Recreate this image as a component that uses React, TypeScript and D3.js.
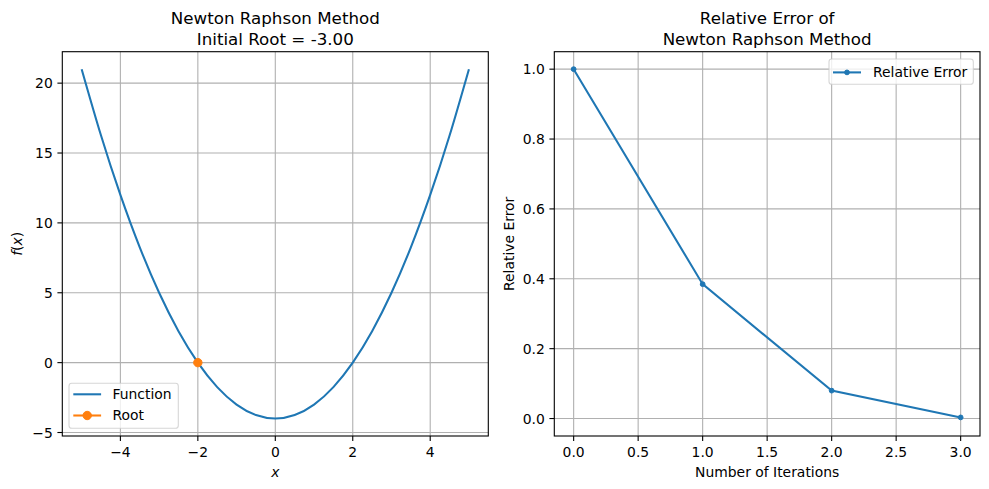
import * as d3 from 'd3';

// f(x) sampled every 0.5 on [-5, 5]
const curveX = [-5, -4.5, -4, -3.5, -3, -2.5, -2, -1.5, -1, -0.5, 0, 0.5, 1, 1.5, 2, 2.5, 3, 3.5, 4, 4.5, 5];
const curveY = [21, 16.25, 12, 8.25, 5, 2.25, 0, -1.75, -3, -3.75, -4, -3.75, -3, -1.75, 0, 2.25, 5, 8.25, 12, 16.25, 21];
const rootPoint = { x: -2, y: 0 };

const iterations = [0, 1, 2, 3];
const relErrors = [1.0, 0.3846, 0.0799, 0.0032];

const leftXTicks = [-4, -2, 0, 2, 4];
const leftYTicks = [-5, 0, 5, 10, 15, 20];
const rightXTicks = [0, 0.5, 1, 1.5, 2, 2.5, 3];
const rightYTicks = [0, 0.2, 0.4, 0.6, 0.8, 1.0];

const BLUE = '#1f77b4';
const ORANGE = '#ff7f0e';
const GRID = '#b0b0b0';
const FONT = 'DejaVu Sans, sans-serif';
const TICK = 13.9;
const TITLE = 16.7;

const fmtMinus = (s: string) => s.replace('-', '\u2212');

type Box = { left: number; right: number; top: number; bottom: number };

function Axes({
  box, x, y, xTicks, yTicks, xFmt, yFmt, children,
}: {
  box: Box;
  x: d3.ScaleLinear<number, number>;
  y: d3.ScaleLinear<number, number>;
  xTicks: number[];
  yTicks: number[];
  xFmt: (v: number) => string;
  yFmt: (v: number) => string;
  children?: any;
}) {
  const clipId = `clip-${Math.round(box.left)}`;
  return (
    <g>
      <defs>
        <clipPath id={clipId}>
          <rect x={box.left} y={box.top} width={box.right - box.left} height={box.bottom - box.top} />
        </clipPath>
      </defs>
      {xTicks.map((t) => (
        <line key={`gx${t}`} x1={x(t)} x2={x(t)} y1={box.top} y2={box.bottom} stroke={GRID} strokeWidth={1.1} />
      ))}
      {yTicks.map((t) => (
        <line key={`gy${t}`} x1={box.left} x2={box.right} y1={y(t)} y2={y(t)} stroke={GRID} strokeWidth={1.1} />
      ))}
      <g clipPath={`url(#${clipId})`}>{children}</g>
      <rect x={box.left} y={box.top} width={box.right - box.left} height={box.bottom - box.top}
        fill="none" stroke="#000" strokeWidth={1.1} />
      {xTicks.map((t) => (
        <g key={`tx${t}`}>
          <line x1={x(t)} x2={x(t)} y1={box.bottom} y2={box.bottom + 4.9} stroke="#000" strokeWidth={1.1} />
          <text x={x(t)} y={box.bottom + 21.3} textAnchor="middle" fontSize={TICK} fontFamily={FONT}>
            {fmtMinus(xFmt(t))}
          </text>
        </g>
      ))}
      {yTicks.map((t) => (
        <g key={`ty${t}`}>
          <line x1={box.left - 4.9} x2={box.left} y1={y(t)} y2={y(t)} stroke="#000" strokeWidth={1.1} />
          <text x={box.left - 9.5} y={y(t) + 5} textAnchor="end" fontSize={TICK} fontFamily={FONT}>
            {fmtMinus(yFmt(t))}
          </text>
        </g>
      ))}
    </g>
  );
}

export default function App() {
  const width = 989;
  const height = 489;

  const lb: Box = { left: 62.3, right: 488.3, top: 51.7, bottom: 436 };
  const rb: Box = { left: 554.3, right: 980, top: 51.7, bottom: 436 };

  const lx = d3.scaleLinear().domain([-5.5, 5.5]).range([lb.left, lb.right]);
  const ly = d3.scaleLinear().domain([-5.25, 22.25]).range([lb.bottom, lb.top]);
  const rx = d3.scaleLinear().domain([-0.15, 3.15]).range([rb.left, rb.right]);
  const ry = d3.scaleLinear().domain([-0.05, 1.05]).range([rb.bottom, rb.top]);

  const fnLine = d3.line<number>()
    .x((_, i) => lx(curveX[i]))
    .y((v) => ly(v))
    .curve(d3.curveNatural);

  const errLine = d3.line<number>()
    .x((_, i) => rx(iterations[i]))
    .y((v) => ry(v));

  const lcx = (lb.left + lb.right) / 2;
  const rcx = (rb.left + rb.right) / 2;
  const lcy = (lb.top + lb.bottom) / 2;

  return (
    <svg width={width} height={height} style={{ position: 'absolute', left: 0, top: 0, background: '#fff' }}>
      <rect width={width} height={height} fill="#fff" />

      {/* left: function and root */}
      <text x={lcx} y={23.5} textAnchor="middle" fontSize={TITLE} fontFamily={FONT}>Newton Raphson Method</text>
      <text x={lcx} y={45} textAnchor="middle" fontSize={TITLE} fontFamily={FONT}>Initial Root = -3.00</text>
      <Axes box={lb} x={lx} y={ly} xTicks={leftXTicks} yTicks={leftYTicks}
        xFmt={(v) => String(v)} yFmt={(v) => String(v)}>
        <path d={fnLine(curveY) ?? ''} fill="none" stroke={BLUE} strokeWidth={2.08} />
        <circle cx={lx(rootPoint.x)} cy={ly(rootPoint.y)} r={4.2} fill={ORANGE} stroke={ORANGE} strokeWidth={1} />
      </Axes>
      <text x={lcx} y={477} textAnchor="middle" fontSize={TICK} fontFamily={FONT} fontStyle="italic">x</text>
      <text transform={`translate(22,${lcy}) rotate(-90)`} textAnchor="middle" fontSize={TICK} fontFamily={FONT}>
        <tspan fontStyle="italic">f</tspan>(<tspan fontStyle="italic">x</tspan>)
      </text>

      <g>
        <rect x={69} y={383.3} width={109.3} height={45} rx={2.8} fill="#fff" fillOpacity={0.8}
          stroke="#cccccc" strokeOpacity={0.8} strokeWidth={1.1} />
        <line x1={73.3} x2={101.1} y1={394.3} y2={394.3} stroke={BLUE} strokeWidth={2.08} />
        <text x={112.5} y={399.2} fontSize={TICK} fontFamily={FONT}>Function</text>
        <line x1={73.3} x2={101.1} y1={415.5} y2={415.5} stroke={ORANGE} strokeWidth={2.08} />
        <circle cx={87.2} cy={415.5} r={4.2} fill={ORANGE} stroke={ORANGE} strokeWidth={1} />
        <text x={112.5} y={420.4} fontSize={TICK} fontFamily={FONT}>Root</text>
      </g>

      {/* right: relative error per iteration */}
      <text x={rcx} y={23.5} textAnchor="middle" fontSize={TITLE} fontFamily={FONT}>Relative Error of</text>
      <text x={rcx} y={45} textAnchor="middle" fontSize={TITLE} fontFamily={FONT}>Newton Raphson Method</text>
      <Axes box={rb} x={rx} y={ry} xTicks={rightXTicks} yTicks={rightYTicks}
        xFmt={d3.format('.1f')} yFmt={d3.format('.1f')}>
        <path d={errLine(relErrors) ?? ''} fill="none" stroke={BLUE} strokeWidth={2.08} />
        {relErrors.map((v, i) => (
          <circle key={i} cx={rx(iterations[i])} cy={ry(v)} r={2.4} fill={BLUE} stroke={BLUE} strokeWidth={1} />
        ))}
      </Axes>
      <text x={rcx} y={477} textAnchor="middle" fontSize={TICK} fontFamily={FONT}>Number of Iterations</text>
      <text transform={`translate(514,${lcy}) rotate(-90)`} textAnchor="middle" fontSize={TICK} fontFamily={FONT}>
        Relative Error
      </text>

      <g>
        <rect x={829} y={59} width={144.3} height={25.3} rx={2.8} fill="#fff" fillOpacity={0.8}
          stroke="#cccccc" strokeOpacity={0.8} strokeWidth={1.1} />
        <line x1={833} x2={861} y1={72.4} y2={72.4} stroke={BLUE} strokeWidth={2.08} />
        <circle cx={847} cy={72.4} r={2.4} fill={BLUE} stroke={BLUE} strokeWidth={1} />
        <text x={873} y={77.3} fontSize={TICK} fontFamily={FONT}>Relative Error</text>
      </g>
    </svg>
  );
}
